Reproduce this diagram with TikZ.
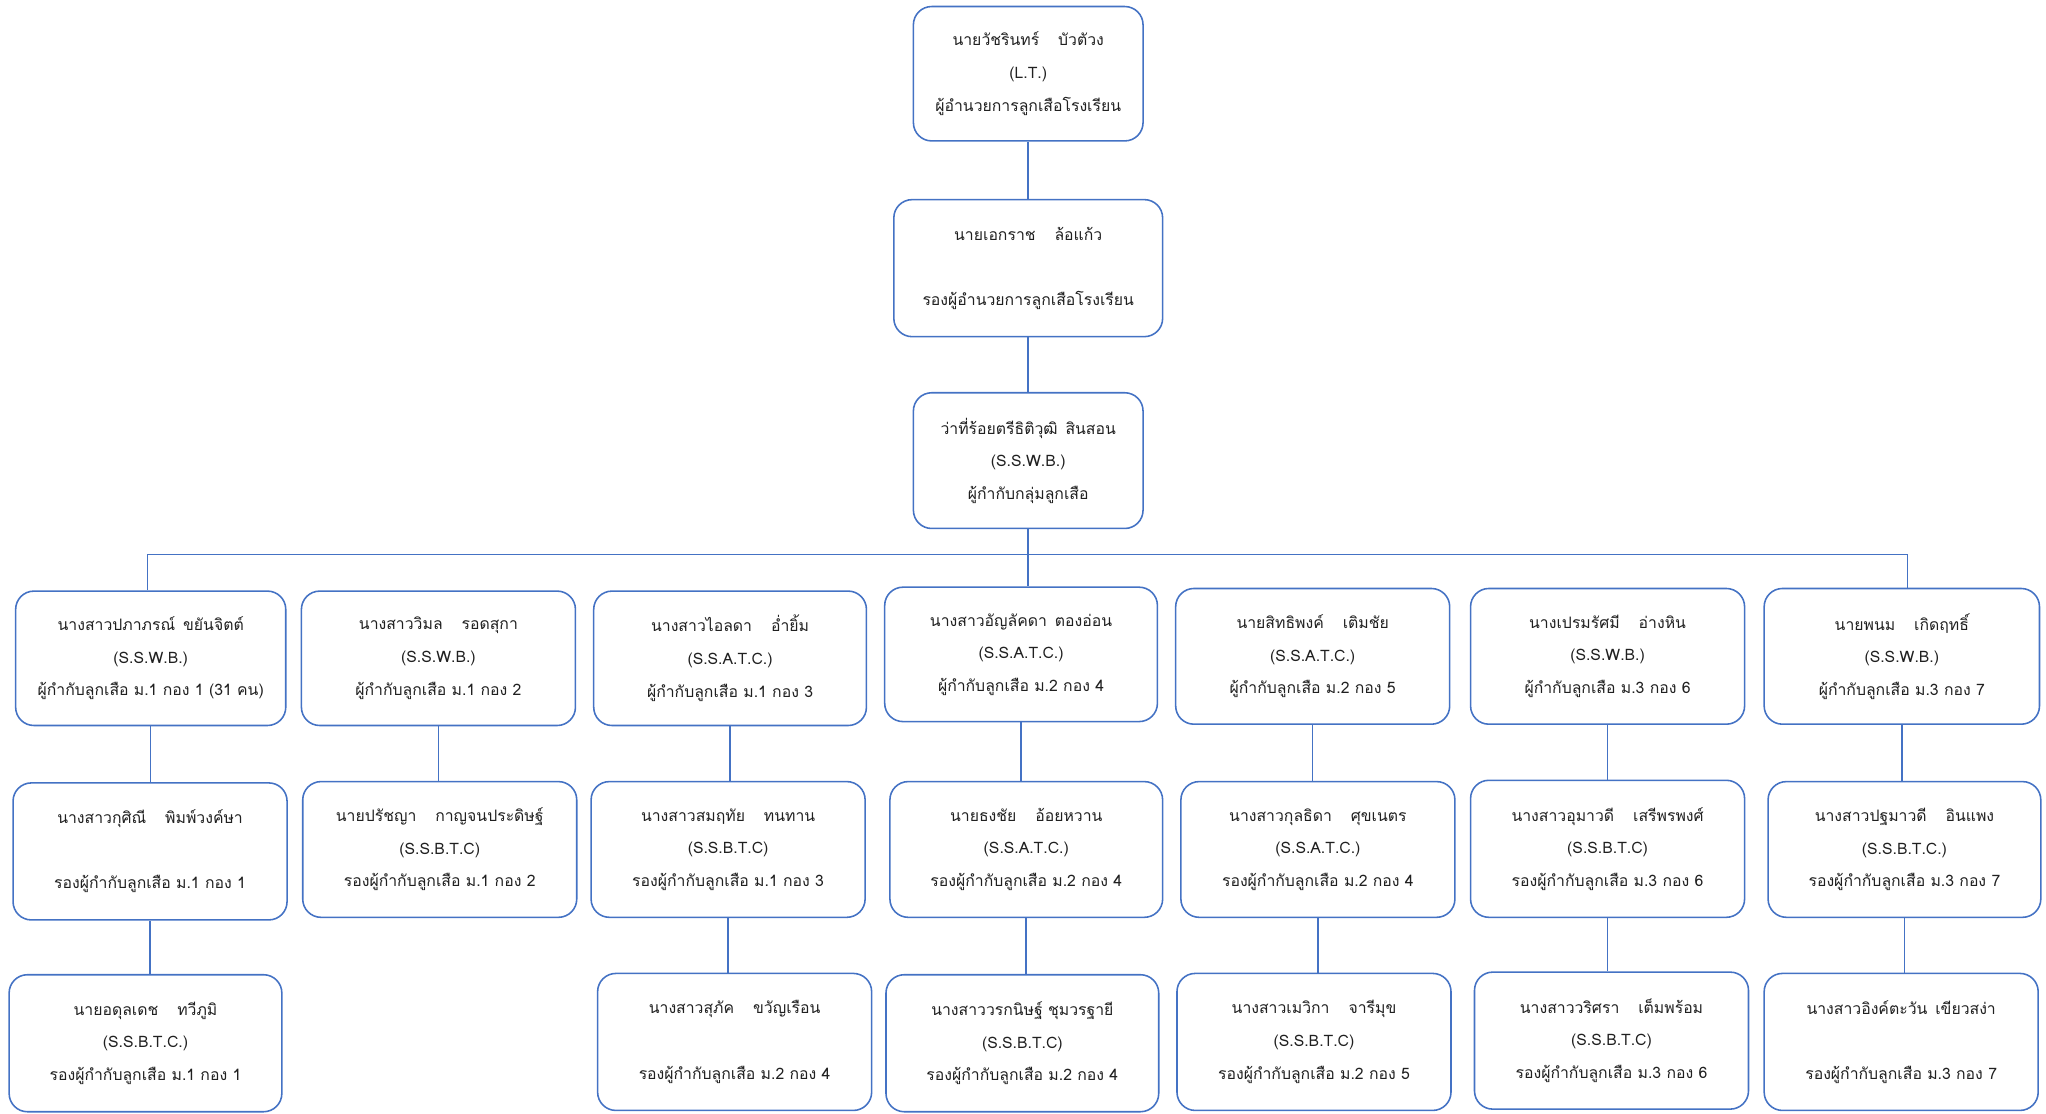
\documentclass[tikz,border=0pt]{standalone}
\usepackage{fontspec}
\newfontfamily\thaifont[Script=Thai]{Loma}
\definecolor{boxblue}{HTML}{4472C4}
\definecolor{txt}{HTML}{202020}
\tikzset{
  orgbox/.style={draw=boxblue, line width=1.2pt, rounded corners=14pt, fill=white,
    align=center, inner sep=0pt, text=txt,
    font=\thaifont\fontsize{12.1}{25}\selectfont},
  link/.style={draw=boxblue, line width=1.2pt},
}
\newcommand{\gap}{\hspace{1.2em}}
\begin{document}
\begin{tikzpicture}[x=1pt,y=-1pt]
\useasboundingbox (0,0) rectangle (1568,853);
% top chain
\node[orgbox, minimum width=176pt, minimum height=103pt] (A) at (788,56.5) {นายวัชรินทร์\gap บัวตัวง\\(L.T.)\\ผู้อำนวยการลูกเสือโรงเรียน};
\node[orgbox, minimum width=206pt, minimum height=105pt] (B) at (788,205.5) {นายเอกราช\gap ล้อแก้ว\\\strut\\รองผู้อำนวยการลูกเสือโรงเรียน};
\node[orgbox, minimum width=176pt, minimum height=104pt] (C) at (788,353) {ว่าที่ร้อยตรีธิติวุฒิ\hspace{0.5em}สินสอน\\(S.S.W.B.)\\ผู้กำกับกลุ่มลูกเสือ};
% row 1
\node[orgbox, minimum width=207pt, minimum height=103pt] (r1a) at (115.5,504.5) {นางสาวปภาภรณ์\hspace{0.5em}ขยันจิตต์\\(S.S.W.B.)\\ผู้กำกับลูกเสือ ม.1 กอง 1 (31 คน)};
\node[orgbox, minimum width=210pt, minimum height=103pt] (r1b) at (336,504.5) {นางสาววิมล\gap รอดสุกา\\(S.S.W.B.)\\ผู้กำกับลูกเสือ ม.1 กอง 2};
\node[orgbox, minimum width=209pt, minimum height=103pt] (r1c) at (559.5,504.5) {นางสาวไอลดา\gap อ่ำยิ้ม\\(S.S.A.T.C.)\\ผู้กำกับลูกเสือ ม.1 กอง 3};
\node[orgbox, minimum width=209pt, minimum height=103pt] (r1d) at (782.5,501.5) {นางสาวอัญลัคดา\hspace{0.5em}ตองอ่อน\\(S.S.A.T.C.)\\ผู้กำกับลูกเสือ ม.2 กอง 4};
\node[orgbox, minimum width=210pt, minimum height=104pt] (r1e) at (1006,503) {นายสิทธิพงค์\gap เติมชัย\\(S.S.A.T.C.)\\ผู้กำกับลูกเสือ ม.2 กอง 5};
\node[orgbox, minimum width=210pt, minimum height=104pt] (r1f) at (1232,503) {นางเปรมรัศมี\gap อ่างหิน\\(S.S.W.B.)\\ผู้กำกับลูกเสือ ม.3 กอง 6};
\node[orgbox, minimum width=211pt, minimum height=104pt] (r1g) at (1457.5,503) {นายพนม\gap เกิดฤทธิ์\\(S.S.W.B.)\\ผู้กำกับลูกเสือ ม.3 กอง 7};
% row 2
\node[orgbox, minimum width=210pt, minimum height=105pt] (r2a) at (115,652.5) {นางสาวกุศิณี\gap พิมพ์วงค์ษา\\\strut\\รองผู้กำกับลูกเสือ ม.1 กอง 1};
\node[orgbox, minimum width=210pt, minimum height=104pt] (r2b) at (337,651) {นายปรัชญา\gap กาญจนประดิษฐ์\\(S.S.B.T.C)\\รองผู้กำกับลูกเสือ ม.1 กอง 2};
\node[orgbox, minimum width=210pt, minimum height=104pt] (r2c) at (558,651) {นางสาวสมฤทัย\gap ทนทาน\\(S.S.B.T.C)\\รองผู้กำกับลูกเสือ ม.1 กอง 3};
\node[orgbox, minimum width=209pt, minimum height=104pt] (r2d) at (786.5,651) {นายธงชัย\gap อ้อยหวาน\\(S.S.A.T.C.)\\รองผู้กำกับลูกเสือ ม.2 กอง 4};
\node[orgbox, minimum width=210pt, minimum height=104pt] (r2e) at (1010,651) {นางสาวกุลธิดา\gap ศุขเนตร\\(S.S.A.T.C.)\\รองผู้กำกับลูกเสือ ม.2 กอง 4};
\node[orgbox, minimum width=210pt, minimum height=105pt] (r2f) at (1232,650.5) {นางสาวอุมาวดี\gap เสรีพรพงศ์\\(S.S.B.T.C)\\รองผู้กำกับลูกเสือ ม.3 กอง 6};
\node[orgbox, minimum width=209pt, minimum height=104pt] (r2g) at (1459.5,651) {นางสาวปฐมาวดี\gap อินแพง\\(S.S.B.T.C.)\\รองผู้กำกับลูกเสือ ม.3 กอง 7};
% row 3
\node[orgbox, minimum width=209pt, minimum height=105pt] (r3a) at (111.5,799.5) {นายอดุลเดช\gap ทวีภูมิ\\(S.S.B.T.C.)\\รองผู้กำกับลูกเสือ ม.1 กอง 1};
\node[orgbox, minimum width=210pt, minimum height=105pt] (r3c) at (563,798.5) {นางสาวสุภัค\gap ขวัญเรือน\\\strut\\รองผู้กำกับลูกเสือ ม.2 กอง 4};
\node[orgbox, minimum width=209pt, minimum height=105pt] (r3d) at (783.5,799.5) {นางสาววรกนิษฐ์ ชุมวรฐายี\\(S.S.B.T.C)\\รองผู้กำกับลูกเสือ ม.2 กอง 4};
\node[orgbox, minimum width=210pt, minimum height=105pt] (r3e) at (1007,798.5) {นางสาวเมวิกา\gap จารีมุข\\(S.S.B.T.C)\\รองผู้กำกับลูกเสือ ม.2 กอง 5};
\node[orgbox, minimum width=210pt, minimum height=105pt] (r3f) at (1235,797.5) {นางสาววริศรา\gap เต็มพร้อม\\(S.S.B.T.C)\\รองผู้กำกับลูกเสือ ม.3 กอง 6};
\node[orgbox, minimum width=210pt, minimum height=105pt] (r3g) at (1457,798.5) {นางสาวอิงค์ตะวัน\hspace{0.5em}เขียวสง่า\\\strut\\รองผู้กำกับลูกเสือ ม.3 กอง 7};
% connectors
\coordinate (busL) at (113,425);
\coordinate (busR) at (1462,425);
\draw[link] (A.south) -- (B.north);
\draw[link] (B.south) -- (C.north);
\draw[link] (C.south) -- (C.south |- r1d.north);
\draw[link] (busL) -- (busR);
\draw[link] (busL) -- (busL |- r1a.north);
\draw[link] (busR) -- (busR |- r1g.north);
\foreach \u/\l in {r1a/r2a, r1b/r2b, r1c/r2c, r1d/r2d, r1e/r2e, r1f/r2f, r1g/r2g, r2a/r3a, r2c/r3c, r2d/r3d, r2e/r3e, r2f/r3f, r2g/r3g}
  \draw[link] (\u.south) -- (\u.south |- \l.north);
\end{tikzpicture}
\end{document}
